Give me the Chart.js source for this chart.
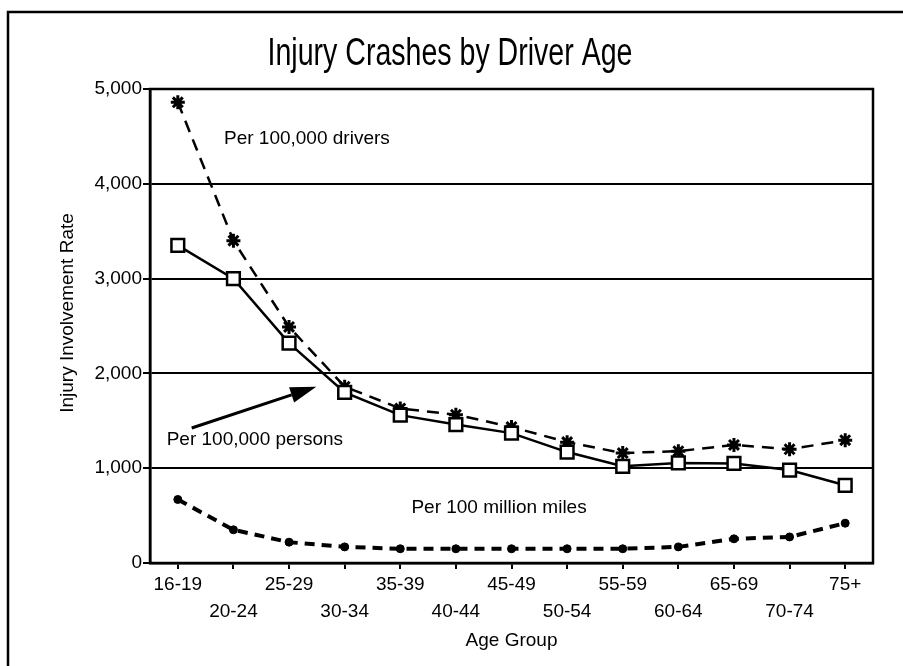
<!DOCTYPE html>
<html>
<head>
<meta charset="utf-8">
<script src="https://cdn.jsdelivr.net/npm/chart.js@4"></script>
<style>
  html, body { margin: 0; padding: 0; background: #fff; }
  #c { display: block; }
</style>
</head>
<body>
<canvas id="c" width="903" height="666"></canvas>
<script>
const ageGroups = ['16-19','20-24','25-29','30-34','35-39','40-44','45-49','50-54','55-59','60-64','65-69','70-74','75+'];
const perDrivers = [4860, 3400, 2490, 1860, 1630, 1565, 1435, 1275, 1160, 1180, 1245, 1200, 1295];
const perPersons = [3350, 3000, 2320, 1800, 1560, 1460, 1370, 1170, 1020, 1055, 1050, 980, 820];
const perMiles   = [670, 350, 220, 170, 150, 150, 150, 150, 150, 170, 255, 275, 420];
const seriesNames = ['Per 100,000 drivers', 'Per 100,000 persons', 'Per 100 million miles'];
const yTicks = [0, 1000, 2000, 3000, 4000, 5000];
const titleText = 'Injury Crashes by Driver Age';
const xTitle = 'Age Group';
const yTitle = 'Injury Involvement Rate';

const FONT = "'Liberation Sans', Arial, sans-serif";

const decorPlugin = {
  id: 'decor',
  beforeDraw(chart) {
    const ctx = chart.ctx;
    ctx.save();
    ctx.fillStyle = '#fff';
    ctx.fillRect(0, 0, chart.width, chart.height);
    ctx.strokeStyle = '#000';
    ctx.lineWidth = 2.5;
    ctx.beginPath();
    ctx.moveTo(8, chart.height + 2);
    ctx.lineTo(8, 12);
    ctx.lineTo(chart.width + 2, 12);
    ctx.stroke();
    // condensed title
    ctx.fillStyle = '#000';
    ctx.font = "39px " + FONT;
    const w = ctx.measureText(titleText).width;
    ctx.translate(450, 65);
    ctx.scale(365 / w, 1);
    ctx.textAlign = 'center';
    ctx.textBaseline = 'alphabetic';
    ctx.fillText(titleText, 0, 0);
    ctx.restore();
    // y axis title
    ctx.save();
    ctx.fillStyle = '#000';
    ctx.font = "19px " + FONT;
    ctx.translate(68, (chart.chartArea.top + chart.chartArea.bottom) / 2 - 13);
    ctx.rotate(-Math.PI / 2);
    ctx.textAlign = 'center';
    ctx.textBaseline = 'middle';
    ctx.fillText(yTitle, 0, 0);
    ctx.restore();
  },
  afterDatasetsDraw(chart) {
    const ctx = chart.ctx;
    const x = chart.scales.x, y = chart.scales.y;
    const a = chart.chartArea;
    ctx.save();
    // plot box
    ctx.strokeStyle = '#000';
    ctx.lineWidth = 2.5;
    ctx.strokeRect(a.left, a.top, a.right - a.left, a.bottom - a.top);
    // series labels
    ctx.fillStyle = '#000';
    ctx.font = "19px " + FONT;
    ctx.textAlign = 'left';
    ctx.textBaseline = 'middle';
    ctx.fillText(seriesNames[0], x.getPixelForValue(0.83), y.getPixelForValue(4470));
    ctx.fillText(seriesNames[1], x.getPixelForValue(-0.2), y.getPixelForValue(1300));
    ctx.fillText(seriesNames[2], x.getPixelForValue(4.2), y.getPixelForValue(580));
    // arrow
    const x0 = x.getPixelForValue(0.25), y0 = y.getPixelForValue(1424);
    const x1 = x.getPixelForValue(2.49), y1 = y.getPixelForValue(1860);
    const ang = Math.atan2(y1 - y0, x1 - x0);
    const hl = 26, hw = 8;
    const bx = x1 - hl * Math.cos(ang), by = y1 - hl * Math.sin(ang);
    ctx.lineWidth = 3;
    ctx.beginPath();
    ctx.moveTo(x0, y0);
    ctx.lineTo(bx, by);
    ctx.stroke();
    ctx.beginPath();
    ctx.moveTo(x1, y1);
    ctx.lineTo(bx + hw * Math.sin(ang), by - hw * Math.cos(ang));
    ctx.lineTo(bx - hw * Math.sin(ang), by + hw * Math.cos(ang));
    ctx.closePath();
    ctx.fill();
    ctx.restore();
  }
};

new Chart(document.getElementById('c'), {
  type: 'line',
  data: {
    labels: ageGroups,
    datasets: [
      {
        label: seriesNames[2],
        data: perMiles,
        borderColor: '#000',
        backgroundColor: '#000',
        borderWidth: 4,
        borderDash: [10, 7],
        pointStyle: 'circle',
        pointRadius: 4,
        pointBackgroundColor: '#000',
        pointBorderWidth: 1,
        tension: 0
      },
      {
        label: seriesNames[1],
        data: perPersons,
        borderColor: '#000',
        backgroundColor: '#fff',
        borderWidth: 2.5,
        pointStyle: 'rect',
        pointRadius: 9,
        pointBackgroundColor: '#fff',
        pointBorderColor: '#000',
        pointBorderWidth: 2.5,
        tension: 0
      },
      {
        label: seriesNames[0],
        data: perDrivers,
        borderColor: '#000',
        backgroundColor: '#000',
        borderWidth: 2.5,
        borderDash: [12, 8],
        pointStyle: 'star',
        pointRadius: 7,
        pointBorderWidth: 3,
        pointBorderColor: '#000',
        tension: 0
      }
    ]
  },
  options: {
    responsive: false,
    devicePixelRatio: 1,
    animation: false,
    layout: { padding: { left: 0, right: 30, top: 89, bottom: 0 } },
    plugins: {
      legend: { display: false },
      tooltip: { enabled: false },
      title: { display: false }
    },
    scales: {
      x: {
        type: 'category',
        offset: true,
        afterFit(scale) { scale.height = 103; },
        grid: {
          display: true,
          drawOnChartArea: false,
          drawTicks: true,
          tickLength: 6,
          offset: false,
          color: '#000',
          lineWidth: 2
        },
        border: { display: true, color: '#000', width: 2.5 },
        ticks: {
          autoSkip: false,
          maxRotation: 0,
          minRotation: 0,
          color: '#000',
          padding: 2,
          font: { family: FONT, size: 19, lineHeight: '27px' },
          callback(v, i) { return i % 2 === 0 ? ageGroups[i] : ['', ageGroups[i]]; }
        },
        title: {
          display: true,
          text: xTitle,
          color: '#000',
          font: { family: FONT, size: 19 },
          padding: { top: 3, bottom: 14 }
        }
      },
      y: {
        min: 0,
        max: 5000,
        afterFit(scale) { scale.width = 150; },
        afterBuildTicks(scale) { scale.ticks = yTicks.map(v => ({ value: v })); },
        grid: {
          color: '#000',
          lineWidth: 2,
          drawTicks: true,
          tickLength: 7
        },
        border: { display: true, color: '#000', width: 2.5 },
        ticks: {
          color: '#000',
          padding: 1,
          font: { family: FONT, size: 19 },
          callback(v) { return Number(v).toLocaleString('en-US'); }
        },
        title: { display: false }
      }
    }
  },
  plugins: [decorPlugin]
});
</script>
</body>
</html>
